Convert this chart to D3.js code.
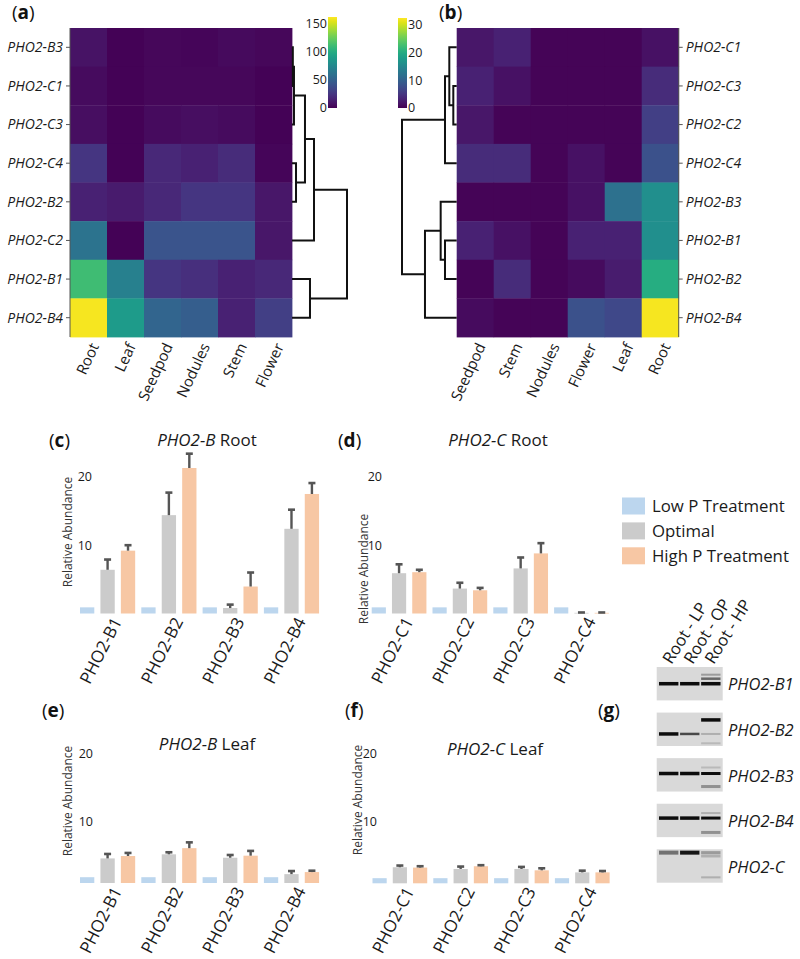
<!DOCTYPE html>
<html><head><meta charset="utf-8">
<script src="https://cdn.jsdelivr.net/npm/d3@7"></script>
<style>body{margin:0;background:#fff} svg{display:block;font-family:"Open Sans",sans-serif}</style>
</head><body><svg id="fig" width="800" height="959"></svg>
<script>
// ---------------- DATA ----------------
// Heatmap (a)
const colsA = ["Root","Leaf","Seedpod","Nodules","Stem","Flower"];
const rowsA = ["PHO2-B3","PHO2-C1","PHO2-C3","PHO2-C4","PHO2-B2","PHO2-C2","PHO2-B1","PHO2-B4"];
const valsA = [
  [8, 1, 3, 2, 4, 3],
  [5, 1, 3, 3, 3, 1],
  [6, 1, 5, 6, 5, 1],
  [25, 1, 18, 15, 20, 2],
  [15, 12, 18, 25, 25, 10],
  [62, 1, 42, 42, 42, 10],
  [112, 70, 25, 22, 15, 18],
  [160, 88, 52, 48, 15, 30]
];
const maxA = 162;
const ticksA = [0, 50, 100, 150];
// linkage: [childA, childB, distance]
const linkA = [
  ["PHO2-B3","PHO2-C1",0.15],
  ["m0","PHO2-C3",0.36],
  ["PHO2-C4","PHO2-B2",0.73],
  ["m1","m2",2.36],
  ["m3","PHO2-C2",4.0],
  ["PHO2-B1","PHO2-B4",3.27],
  ["m4","m5",10.0]
];
// Heatmap (b)
const colsB = ["Seedpod","Stem","Nodules","Flower","Leaf","Root"];
const rowsB = ["PHO2-C1","PHO2-C3","PHO2-C2","PHO2-C4","PHO2-B3","PHO2-B1","PHO2-B2","PHO2-B4"];
const valsB = [
  [2, 3, 0.3, 0.3, 0.3, 1.5],
  [3, 1.5, 0.3, 0.3, 0.3, 4],
  [2, 0.3, 0.3, 0.3, 0.3, 6],
  [4, 4, 0.3, 1.5, 0.3, 8],
  [0.3, 0.3, 0.3, 1.5, 12, 16],
  [3, 1.5, 0.3, 3, 3, 16],
  [0.3, 4, 0.3, 1, 2.5, 20],
  [1, 0.3, 0.3, 8, 7, 32]
];
const maxB = 32.4;
const ticksB = [0, 10, 20, 30];
const linkB = [
  ["PHO2-C3","PHO2-C2",0.62],
  ["PHO2-C1","m0",1.35],
  ["m1","PHO2-C4",2.14],
  ["PHO2-B1","PHO2-B2",2.14],
  ["PHO2-B3","m3",2.93],
  ["m4","PHO2-B4",5.8],
  ["m2","m5",10.0]
];
// Bar charts
const series = ["Low P Treatment","Optimal","High P Treatment"];
const genesB = ["PHO2-B1","PHO2-B2","PHO2-B3","PHO2-B4"];
const genesC = ["PHO2-C1","PHO2-C2","PHO2-C3","PHO2-C4"];
const yTicks = [10, 20];
// (c) PHO2-B Root
const rootB_low = [0.9, 0.9, 0.9, 0.9];
const rootB_opt = [6.4, 14.4, 0.8, 12.4];
const rootB_optErr = [1.5, 3.3, 0.5, 2.8];
const rootB_high = [9.2, 21.3, 3.95, 17.5];
const rootB_highErr = [0.8, 2.1, 2.05, 1.6];
// (d) PHO2-C Root
const rootC_low = [0.9, 0.9, 0.9, 0.9];
const rootC_opt = [5.9, 3.65, 6.6, 0.1];
const rootC_optErr = [1.3, 0.85, 1.6, 0.05];
const rootC_high = [6.05, 3.4, 8.8, 0.1];
const rootC_highErr = [0.35, 0.35, 1.5, 0.05];
// (e) PHO2-B Leaf
const leafB_low = [0.85, 0.85, 0.85, 0.85];
const leafB_opt = [3.6, 4.2, 3.7, 1.3];
const leafB_optErr = [0.65, 0.3, 0.4, 0.45];
const leafB_high = [3.95, 5.1, 4.0, 1.6];
const leafB_highErr = [0.45, 0.85, 0.7, 0.2];
// (f) PHO2-C Leaf
const leafC_low = [0.75, 0.75, 0.75, 0.75];
const leafC_opt = [2.35, 2.1, 2.1, 1.6];
const leafC_optErr = [0.25, 0.35, 0.3, 0.25];
const leafC_high = [2.3, 2.5, 1.9, 1.6];
const leafC_highErr = [0.2, 0.15, 0.3, 0.2];
// (g) gel
const gelGenes = ["PHO2-B1","PHO2-B2","PHO2-B3","PHO2-B4","PHO2-C"];
const gelLanes = ["Root - LP","Root - OP","Root - HP"];
// [gene, lane, relative position in box, intensity, thickness]
const gelBands = [
  ["PHO2-B1",0,0.50,1,3.5],["PHO2-B1",1,0.50,1,3.5],["PHO2-B1",2,0.50,1,3.5],
  ["PHO2-B1",2,0.35,0.55,2.5],["PHO2-B1",2,0.23,0.3,2],
  ["PHO2-B2",0,0.64,1,3.5],["PHO2-B2",1,0.64,0.7,2.5],["PHO2-B2",2,0.22,1,3.5],
  ["PHO2-B2",2,0.64,0.2,2],["PHO2-B2",2,0.92,0.15,2],
  ["PHO2-B3",0,0.46,1,3.5],["PHO2-B3",1,0.46,1,3.5],["PHO2-B3",2,0.46,1,3],
  ["PHO2-B3",2,0.28,0.15,2],["PHO2-B3",2,0.85,0.35,3],
  ["PHO2-B4",0,0.43,1,3.5],["PHO2-B4",1,0.43,1,3.5],["PHO2-B4",2,0.43,1,3],
  ["PHO2-B4",2,0.28,0.2,2],["PHO2-B4",2,0.86,0.35,3],
  ["PHO2-C",0,0.10,0.5,4],["PHO2-C",1,0.10,0.95,4],["PHO2-C",2,0.10,0.3,3],
  ["PHO2-C",2,0.20,0.2,3],["PHO2-C",2,0.84,0.2,2]
];

// ---------------- DRAWING ----------------
const svg = d3.select("#fig");
const TXT = "#1a1a1a";

function panelLabel(x, y, letter) {
  const t = svg.append("text").attr("x", x).attr("y", y).attr("font-size", 19).attr("fill", "#111");
  t.append("tspan").text("(");
  t.append("tspan").attr("font-weight", "bold").text(letter);
  t.append("tspan").text(")");
}

function heatmap(cfg) {
  const xs = d3.scaleBand().domain(cfg.cols).range([cfg.x0, cfg.x0 + cfg.w]);
  const ys = d3.scaleBand().domain(cfg.rows).range([cfg.y0, cfg.y0 + cfg.h]);
  const color = d3.scaleSequential(d3.interpolateViridis).domain([0, cfg.vmax]);
  const g = svg.append("g");
  cfg.rows.forEach((r, i) => cfg.cols.forEach((c, j) => {
    g.append("rect").attr("x", xs(c)).attr("y", ys(r))
      .attr("width", xs.bandwidth() + 0.4).attr("height", ys.bandwidth() + 0.4)
      .attr("fill", color(cfg.vals[i][j]));
  }));
  const ex = cfg.side === "left" ? cfg.x0 : cfg.x0 + cfg.w;
  g.append("line").attr("x1", ex).attr("x2", ex).attr("y1", cfg.y0).attr("y2", cfg.y0 + cfg.h)
    .attr("stroke", "#555").attr("stroke-width", 1);
  cfg.rows.forEach(r => {
    const cy = ys(r) + ys.bandwidth() / 2;
    const dir = cfg.side === "left" ? -1 : 1;
    g.append("line").attr("x1", ex).attr("x2", ex + dir * 4).attr("y1", cy).attr("y2", cy)
      .attr("stroke", "#555").attr("stroke-width", 1);
    g.append("text").attr("x", ex + dir * 7).attr("y", cy).attr("dy", "0.35em")
      .attr("text-anchor", cfg.side === "left" ? "end" : "start")
      .attr("font-size", 14).attr("font-style", "italic").attr("fill", TXT).text(r);
  });
  cfg.cols.forEach(c => {
    const px = xs(c) + xs.bandwidth() / 2 + 6, py = cfg.y0 + cfg.h + 7;
    g.append("text").attr("transform", `translate(${px},${py}) rotate(-65)`)
      .attr("dy", "0.35em").attr("text-anchor", "end")
      .attr("font-size", 15).attr("fill", TXT).text(c);
  });
  return { xs, ys, color };
}

function dendrogram(links, ys, xscale) {
  const nodes = {};
  ys.domain().forEach(r => nodes[r] = { y: ys(r) + ys.bandwidth() / 2, h: 0 });
  links.forEach(([a, b, h], i) => {
    const A = nodes[a], B = nodes[b];
    svg.append("path")
      .attr("d", `M${xscale(A.h)},${A.y}H${xscale(h)}V${B.y}H${xscale(B.h)}`)
      .attr("fill", "none").attr("stroke", "#111").attr("stroke-width", 2);
    nodes["m" + i] = { y: (A.y + B.y) / 2, h };
  });
}

function colorbar(id, x, w, yTop, yBot, vmax, ticks, labelSide) {
  const defs = svg.append("defs");
  const grad = defs.append("linearGradient").attr("id", id)
    .attr("x1", 0).attr("y1", 1).attr("x2", 0).attr("y2", 0);
  d3.range(0, 1.0001, 0.05).forEach(t => grad.append("stop")
    .attr("offset", t).attr("stop-color", d3.interpolateViridis(t)));
  const y = d3.scaleLinear().domain([0, vmax]).range([yBot, yTop]);
  svg.append("rect").attr("x", x).attr("y", y(vmax)).attr("width", w)
    .attr("height", y(0) - y(vmax)).attr("fill", `url(#${id})`);
  ticks.forEach(t => {
    svg.append("text").attr("x", labelSide === "left" ? x - 1 : x + w + 1).attr("y", y(t))
      .attr("dy", "0.35em").attr("text-anchor", labelSide === "left" ? "end" : "start")
      .attr("font-size", 12.5).attr("fill", TXT).text(t);
  });
}

// (a)
panelLabel(12, 19, "a");
const hA = heatmap({ cols: colsA, rows: rowsA, vals: valsA, x0: 70, y0: 28, w: 222, h: 309, vmax: maxA, side: "left" });
dendrogram(linkA, hA.ys, d3.scaleLinear().domain([0, 10]).range([292, 347]));
colorbar("cbA", 328, 9, 17, 108, maxA, ticksA, "left");

// (b)
panelLabel(439, 19, "b");
const hB = heatmap({ cols: colsB, rows: rowsB, vals: valsB, x0: 456.7, y0: 28, w: 222, h: 309, vmax: maxB, side: "right" });
dendrogram(linkB, hB.ys, d3.scaleLinear().domain([0, 10]).range([456.7, 402]));
colorbar("cbB", 398, 9, 18, 108, maxB, ticksB, "right");

// bar panels
const barColors = d3.scaleOrdinal().domain(series).range(["#bcd6ee", "#cbcbcb", "#f7c7a4"]);

function barPanel(cfg) {
  const g = svg.append("g");
  const y = d3.scaleLinear().domain([0, 20]).range([cfg.base, cfg.base - 136.6]);
  const gx = d3.scaleBand().domain(cfg.genes).range([cfg.x0, cfg.x0 + 4 * cfg.step]);
  const sx = d3.scaleBand().domain(series).range([0, cfg.step]).paddingInner(0.3).paddingOuter(0.15).align(0);
  const vals = [cfg.low, cfg.opt, cfg.high];
  const errs = [null, cfg.optErr, cfg.highErr];
  cfg.genes.forEach((gene, i) => {
    series.forEach((s, k) => {
      const v = vals[k][i];
      const bx = gx(gene) + sx(s);
      g.append("rect").attr("x", bx).attr("y", y(v)).attr("width", sx.bandwidth())
        .attr("height", cfg.base - y(v)).attr("fill", barColors(s));
      if (errs[k]) {
        const cx = bx + sx.bandwidth() / 2, top = y(v + errs[k][i]);
        g.append("line").attr("x1", cx).attr("x2", cx).attr("y1", y(v)).attr("y2", top)
          .attr("stroke", "#555").attr("stroke-width", 2.4);
        g.append("line").attr("x1", cx - 3.5).attr("x2", cx + 3.5).attr("y1", top).attr("y2", top)
          .attr("stroke", "#555").attr("stroke-width", 2.6);
      }
    });
    const oc = gx(gene) + sx("Optimal") + sx.bandwidth() / 2;
    g.append("text").attr("transform", `translate(${oc + 9.5},${cfg.base + 5}) rotate(-63)`)
      .attr("dy", "0.35em").attr("text-anchor", "end").attr("font-size", 17).attr("fill", TXT).text(gene);
  });
  yTicks.forEach(t => {
    g.append("text").attr("x", cfg.tickX).attr("y", y(t) + cfg.tickDy).attr("dy", "0.35em")
      .attr("text-anchor", "end").attr("font-size", 12.5).attr("fill", TXT).text(t);
  });
  g.append("text").attr("transform", `translate(${cfg.ylabX},${cfg.ylabY}) rotate(-90)`)
    .attr("dy", "0.35em").attr("text-anchor", "middle").attr("font-size", 12).attr("fill", "#333")
    .text("Relative Abundance");
  const t = g.append("text").attr("x", cfg.titleX).attr("y", cfg.titleY).attr("text-anchor", "middle")
    .attr("font-size", 17).attr("fill", TXT);
  t.append("tspan").attr("font-style", "italic").text(cfg.titleGene);
  t.append("tspan").text(" " + cfg.titleTissue);
}

panelLabel(49, 447, "c");
barPanel({ genes: genesB, low: rootB_low, opt: rootB_opt, optErr: rootB_optErr, high: rootB_high, highErr: rootB_highErr,
  x0: 80, step: 61.3, base: 613.5, tickX: 92, tickDy: 0, ylabX: 68, ylabY: 532,
  titleGene: "PHO2-B", titleTissue: "Root", titleX: 207, titleY: 446 });

panelLabel(338, 447, "d");
barPanel({ genes: genesC, low: rootC_low, opt: rootC_opt, optErr: rootC_optErr, high: rootC_high, highErr: rootC_highErr,
  x0: 371.7, step: 60.8, base: 613.5, tickX: 382, tickDy: 0, ylabX: 363.5, ylabY: 569,
  titleGene: "PHO2-C", titleTissue: "Root", titleX: 498, titleY: 446 });

panelLabel(42, 717, "e");
barPanel({ genes: genesB, low: leafB_low, opt: leafB_opt, optErr: leafB_optErr, high: leafB_high, highErr: leafB_highErr,
  x0: 80, step: 61.3, base: 883, tickX: 93, tickDy: 7, ylabX: 68, ylabY: 801,
  titleGene: "PHO2-B", titleTissue: "Leaf", titleX: 207, titleY: 750 });

panelLabel(345, 717, "f");
barPanel({ genes: genesC, low: leafC_low, opt: leafC_opt, optErr: leafC_optErr, high: leafC_high, highErr: leafC_highErr,
  x0: 372.5, step: 60.8, base: 883.3, tickX: 377, tickDy: 7, ylabX: 358, ylabY: 800,
  titleGene: "PHO2-C", titleTissue: "Leaf", titleX: 495, titleY: 755 });

// legend
const lg = svg.append("g");
series.forEach((s, i) => {
  lg.append("rect").attr("x", 622).attr("y", 497.5 + i * 24.9).attr("width", 23).attr("height", 17).attr("fill", barColors(s));
  lg.append("text").attr("x", 652).attr("y", 506 + i * 24.9).attr("dy", "0.35em")
    .attr("font-size", 16.8).attr("fill", TXT).text(s);
});

// (g) gel
panelLabel(598, 717, "g");
const blur = svg.append("defs").append("filter").attr("id", "blur");
blur.append("feGaussianBlur").attr("stdDeviation", 0.7);
const gy = d3.scaleBand().domain(gelGenes).range([667, 882.7]).paddingInner(0.267);
const lx = d3.scaleBand().domain(gelLanes).range([659, 720.5]).paddingInner(0.08);
const bandShade = d3.interpolateRgb("#d8d8d8", "#0c0c0c");
gelGenes.forEach(gene => {
  svg.append("rect").attr("x", 656.7).attr("y", gy(gene)).attr("width", 66).attr("height", gy.bandwidth())
    .attr("fill", "#d9d9d9");
  svg.append("text").attr("x", 728).attr("y", gy(gene) + gy.bandwidth() / 2 + 1).attr("dy", "0.35em")
    .attr("font-size", 16.5).attr("font-style", "italic").attr("fill", TXT).text(gene);
});
gelBands.forEach(([gene, lane, pos, inten, th]) => {
  svg.append("rect").attr("x", lx(gelLanes[lane])).attr("width", lx.bandwidth())
    .attr("y", gy(gene) + pos * gy.bandwidth() - th / 2).attr("height", th)
    .attr("fill", bandShade(inten)).attr("filter", "url(#blur)");
});
gelLanes.forEach(l => {
  const c = lx(l) + lx.bandwidth() / 2;
  svg.append("text").attr("transform", `translate(${c - 2},${662}) rotate(-58)`)
    .attr("dy", "0.35em").attr("font-size", 16.5).attr("fill", TXT).text(l);
});
</script>
</body></html>
